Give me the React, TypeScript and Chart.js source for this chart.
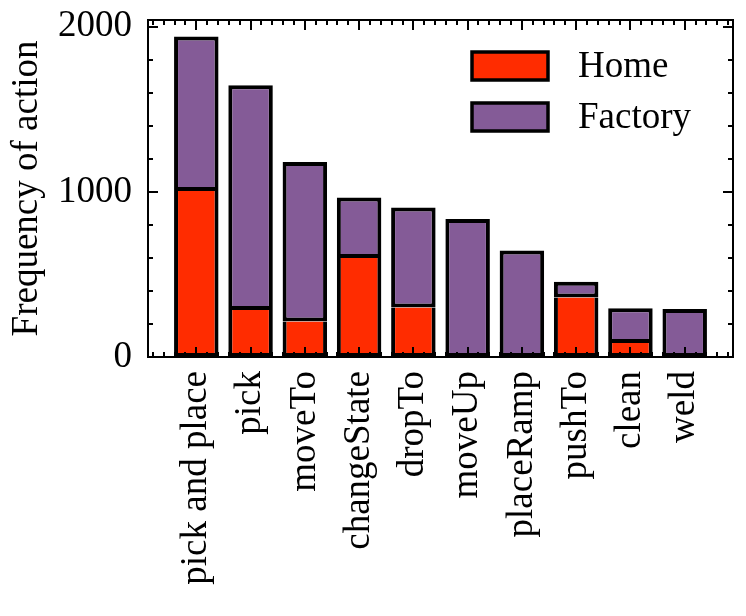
import React, { useEffect, useRef } from 'react';
import { Chart, registerables } from 'chart.js';

Chart.register(...registerables);

const categories = ['pick and place', 'pick', 'moveTo', 'changeState', 'dropTo', 'moveUp', 'placeRamp', 'pushTo', 'clean', 'weld'];
const homeValues = [1005, 285, 215, 600, 300, 0, 0, 360, 85, 0];
const factoryValues = [935, 1360, 965, 365, 605, 835, 645, 95, 210, 290];
const yMajorTicks = [0, 1000, 2000];

const FONT = '"Liberation Serif", "Times New Roman", serif';
const FONT_SIZE = 37;

// matplotlib-style frame with inward ticks on every side
const frameTicks = {
  id: 'frameTicks',
  afterDatasetsDraw(chart: any) {
    const { ctx, chartArea, scales } = chart;
    const { left, right, top, bottom } = chartArea;
    const x = scales.x;
    const y = scales.y;
    ctx.save();
    ctx.strokeStyle = '#000';
    ctx.lineWidth = 2;
    ctx.beginPath();
    // x ticks: major at each category, minor every 0.2
    for (let k = Math.ceil(x.min * 5); k <= Math.floor(x.max * 5); k++) {
      const major = k % 5 === 0;
      const len = major ? 10 : 5;
      const px = Math.round(x.getPixelForValue(k / 5));
      ctx.moveTo(px, bottom);
      ctx.lineTo(px, bottom - len);
      ctx.moveTo(px, top);
      ctx.lineTo(px, top + len);
    }
    // y ticks: major every 1000, minor every 200
    for (let v = 0; v <= y.max; v += 200) {
      const major = v % 1000 === 0;
      const len = major ? 10 : 5;
      const py = Math.round(y.getPixelForValue(v));
      ctx.moveTo(left, py);
      ctx.lineTo(left + len, py);
      ctx.moveTo(right, py);
      ctx.lineTo(right - len, py);
    }
    ctx.stroke();
    ctx.strokeRect(left, top, right - left, bottom - top);
    ctx.restore();
  },
};

// legend drawn inside the plot, top-right
const insideLegend = {
  id: 'insideLegend',
  afterDraw(chart: any) {
    const { ctx, chartArea } = chart;
    const boxW = 76;
    const boxH = 28;
    const boxX = chartArea.right - 261;
    let cy = chartArea.top + 46;
    ctx.save();
    ctx.font = `${FONT_SIZE}px ${FONT}`;
    ctx.textBaseline = 'middle';
    ctx.textAlign = 'left';
    chart.data.datasets.forEach((ds: any) => {
      ctx.fillStyle = ds.backgroundColor;
      ctx.fillRect(boxX, cy - boxH / 2, boxW, boxH);
      ctx.strokeStyle = '#000';
      ctx.lineWidth = 3.5;
      ctx.strokeRect(boxX, cy - boxH / 2, boxW, boxH);
      ctx.fillStyle = '#000';
      ctx.fillText(ds.label, boxX + 106, cy + 1);
      cy += 51;
    });
    ctx.restore();
  },
};

const edgeWidth = (c: any) => (c.raw && c.raw.y > 0 ? 4 : 0);

export default function App() {
  const canvasRef = useRef<HTMLCanvasElement>(null);

  useEffect(() => {
    if (!canvasRef.current) return;
    const chart = new Chart(canvasRef.current, {
      type: 'bar',
      data: {
        datasets: [
          {
            label: 'Home',
            data: homeValues.map((v, i) => ({ x: i, y: v })),
            backgroundColor: '#FF2C00',
            borderColor: '#000',
            borderWidth: edgeWidth,
            borderSkipped: 'top',
            barPercentage: 0.82,
            categoryPercentage: 1,
          },
          {
            label: 'Factory',
            data: factoryValues.map((v, i) => ({ x: i, y: v })),
            backgroundColor: '#845B97',
            borderColor: '#000',
            borderWidth: edgeWidth,
            borderSkipped: false,
            barPercentage: 0.82,
            categoryPercentage: 1,
          },
        ],
      },
      options: {
        animation: false,
        responsive: true,
        maintainAspectRatio: false,
        events: [],
        layout: { padding: { top: 20, right: 13, left: 0, bottom: 0 } },
        plugins: { legend: { display: false }, tooltip: { enabled: false } },
        scales: {
          x: {
            type: 'linear',
            stacked: true,
            offset: false,
            min: -0.89,
            max: 9.89,
            grid: { display: false, drawTicks: false },
            border: { display: false },
            afterBuildTicks: (scale: any) => {
              scale.ticks = categories.map((_, i) => ({ value: i }));
            },
            afterFit: (scale: any) => {
              scale.height = 259;
              scale.paddingLeft = 0;
              scale.paddingRight = 0;
            },
            ticks: {
              autoSkip: false,
              minRotation: 90,
              maxRotation: 90,
              padding: 14,
              color: '#000',
              font: { family: FONT, size: FONT_SIZE },
              callback: (value: any) => categories[value] ?? '',
            },
          },
          y: {
            stacked: true,
            min: 0,
            max: 2040,
            grid: { display: false, drawTicks: false },
            border: { display: false },
            afterBuildTicks: (scale: any) => {
              scale.ticks = yMajorTicks.map((v) => ({ value: v }));
            },
            afterFit: (scale: any) => {
              scale.width = 148;
              scale.paddingTop = 0;
              scale.paddingBottom = 0;
            },
            ticks: {
              padding: 16,
              color: '#000',
              font: { family: FONT, size: FONT_SIZE },
              callback: (value: any) => String(value),
            },
            title: {
              display: true,
              text: 'Frequency of action',
              color: '#000',
              padding: { top: 5, bottom: 0 },
              font: { family: FONT, size: FONT_SIZE },
            },
          },
        },
      },
      plugins: [frameTicks, insideLegend],
    });
    return () => chart.destroy();
  }, []);

  return (
    <div style={{ position: 'fixed', left: 0, top: 0, width: 746, height: 616, background: '#fff' }}>
      <canvas ref={canvasRef} />
    </div>
  );
}
